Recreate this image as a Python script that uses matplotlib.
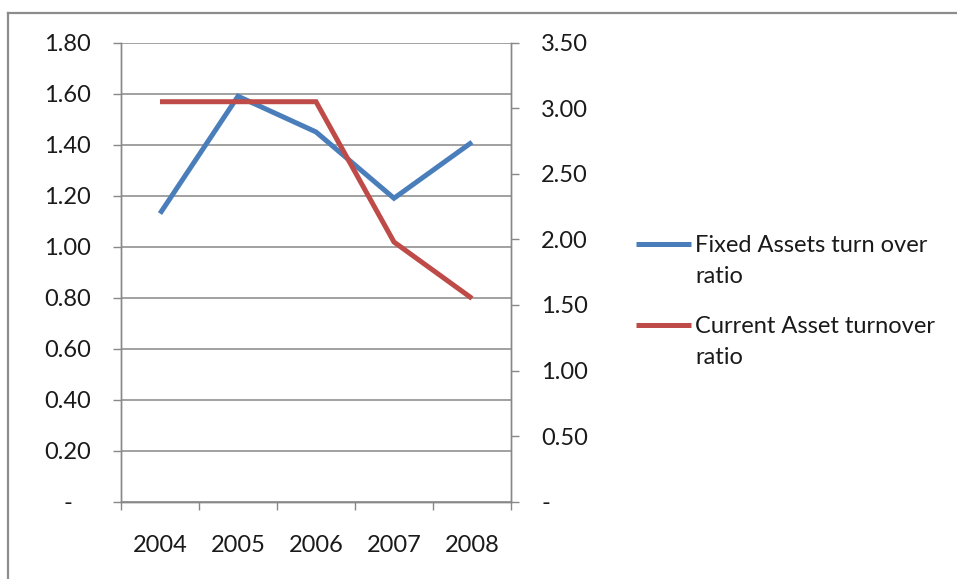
import matplotlib
matplotlib.use("Agg")
import matplotlib.pyplot as plt
from matplotlib.ticker import FixedLocator, FuncFormatter
from matplotlib.lines import Line2D

# Data
years = ["2004", "2005", "2006", "2007", "2008"]
fixed_assets_ratio = [1.13, 1.59, 1.45, 1.19, 1.41]
current_asset_ratio = [3.05, 3.05, 3.05, 1.98, 1.55]
series_names = ["Fixed Assets turn over\nratio", "Current Asset turnover\nratio"]
left_ticks = [0.0, 0.2, 0.4, 0.6, 0.8, 1.0, 1.2, 1.4, 1.6, 1.8]
right_ticks = [0.0, 0.5, 1.0, 1.5, 2.0, 2.5, 3.0, 3.5]

BLUE = "#4A7EBB"
RED = "#BE4B48"
GRID = "#888888"
TXT = "#1a1a1a"
FONT = "Lato"
FS = 17

plt.rcParams["font.family"] = [FONT, "DejaVu Sans"]

fig = plt.figure(figsize=(9.57, 5.79), dpi=100)
W, H = 957, 579

left_px, right_px, top_px, bottom_px = 121, 511, 42.7, 501.7
ax = fig.add_axes([left_px / W, 1 - bottom_px / H,
                   (right_px - left_px) / W, (bottom_px - top_px) / H])
ax2 = ax.twinx()

x = list(range(len(years)))

ax.plot(x, fixed_assets_ratio, color=BLUE, lw=3.6, solid_capstyle="butt",
        solid_joinstyle="miter", zorder=3)
ax2.plot(x, current_asset_ratio, color=RED, lw=3.6, solid_capstyle="butt",
         solid_joinstyle="miter", zorder=3)

def acct(v, pos=None):
    return "-   " if abs(v) < 1e-9 else f"{v:.2f}"

def acct_r(v, pos=None):
    return "-" if abs(v) < 1e-9 else f"{v:.2f}"

ax.set_xlim(-0.5, len(years) - 0.5)
ax.set_ylim(0, 1.8)
ax2.set_ylim(0, 3.5)

ax.yaxis.set_major_locator(FixedLocator(left_ticks))
ax.yaxis.set_major_formatter(FuncFormatter(acct))
ax2.yaxis.set_major_locator(FixedLocator(right_ticks))
ax2.yaxis.set_major_formatter(FuncFormatter(acct_r))

ax.set_xticks([i - 0.5 for i in range(len(years) + 1)])
ax.set_xticklabels([])
ax.set_xticks(x, minor=True)
ax.set_xticklabels(years, minor=True)

tick_len = 5.8
ax.tick_params(axis="y", direction="out", length=tick_len, width=1.0, color=GRID,
               labelsize=FS, pad=16, labelcolor=TXT)
ax2.tick_params(axis="y", direction="out", length=tick_len, width=1.0, color=GRID,
                labelsize=FS, pad=16, labelcolor=TXT)
ax.tick_params(axis="x", which="major", direction="out", length=tick_len, width=1.0,
               color=GRID)
ax.tick_params(axis="x", which="minor", length=0, labelsize=FS, pad=24,
               labelcolor=TXT)

ax.grid(axis="y", color=GRID, lw=1.1, zorder=0)
ax.set_axisbelow(True)

for a in (ax, ax2):
    a.spines["top"].set_visible(False)
    for s in ("left", "right", "bottom"):
        a.spines[s].set_color(GRID)
        a.spines[s].set_linewidth(1.0)
    a.patch.set_visible(False)

# Legend drawn beside the plot, key aligned with each label's first line
legend_items = [(series_names[0], BLUE, 244), (series_names[1], RED, 325)]
for label, color, ypx in legend_items:
    fig.add_artist(Line2D([636 / W, 691 / W], [1 - ypx / H, 1 - ypx / H],
                          color=color, lw=3.6, solid_capstyle="butt"))
    fig.text(695 / W, 1 - (ypx - 9) / H, label, fontsize=FS, color=TXT,
             ha="left", va="top", linespacing=1.6)

# Chart frame (top and left edges visible)
fig.add_artist(Line2D([8 / W, 1.0], [1 - 12.5 / H, 1 - 12.5 / H], color="#8c8c8c", lw=1.6))
fig.add_artist(Line2D([8 / W, 8 / W], [0, 1 - 12.5 / H], color="#8c8c8c", lw=1.6))

fig.savefig("out.png", dpi=100, facecolor="white")
